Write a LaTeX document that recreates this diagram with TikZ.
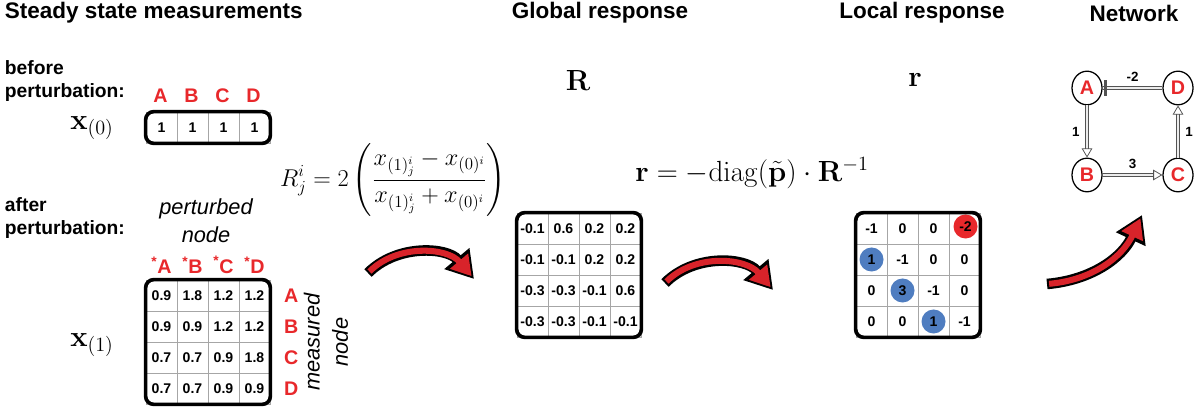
\documentclass[tikz,border=0pt]{standalone}
\usepackage{amsmath}
\usepackage[no-math]{fontspec}
\setmainfont{Liberation Sans}
\usepackage{xcolor}
\usetikzlibrary{arrows.meta,calc,positioning,shapes.geometric}

\definecolor{labred}{HTML}{E8282B}
\definecolor{dotblue}{HTML}{4F7DC0}
\definecolor{arrowred}{HTML}{D8232A}

\begin{document}
\begin{tikzpicture}[x=0.025cm,y=0.025cm,
  headline/.style={font=\fontsize{16}{19}\selectfont\bfseries},
  side/.style={font=\fontsize{13.7}{16.5}\selectfont\bfseries, align=left, anchor=west},
  letter/.style={font=\fontsize{14}{16}\selectfont\bfseries, text=labred},
  cell/.style={draw=gray!70, line width=0.5pt, minimum size=0.775cm, inner sep=0pt,
    font=\fontsize{10}{12}\selectfont\bfseries},
  frame/.style={line width=2.6pt, rounded corners=0.2cm},
  note/.style={font=\fontsize{15.5}{20}\selectfont\itshape, align=center},
  dot/.style={circle, fill=#1, minimum size=0.6cm, inner sep=0pt,
    font=\fontsize{10}{12}\selectfont\bfseries},
  netnode/.style={ellipse, draw, line width=0.9pt, minimum width=0.75cm, minimum height=0.84cm,
    inner sep=0pt, font=\fontsize{14}{16}\selectfont\bfseries, text=labred},
  act/.style={draw=gray!65!black, line width=0.55pt, double=gray!15, double distance=1.4pt,
    -{Triangle[open, length=6.5pt, width=7.5pt]}},
  inh/.style={draw=gray!65!black, line width=0.55pt, double=gray!15, double distance=1.4pt},
  inhbar/.style={draw=gray!65!black, line width=0.8pt, shorten <=1.4cm,
    -{Bar[width=11pt, line width=0.8pt]Bar[width=11pt, line width=0.8pt, sep=1.2pt]}},
  elabel/.style={font=\fontsize{9.5}{11}\selectfont\bfseries, inner sep=1pt},
  bigarrow/.style={line width=7.5pt, -{Triangle[length=19pt, width=22pt]}},
  bigarrowin/.style={arrowred, line width=4.3pt, shorten <=1.5pt, shorten >=2.6pt,
    -{Triangle[length=14pt, width=16pt]}}]
  \useasboundingbox (0,0) rectangle (1200,407);

  % column headings
  \node[headline, anchor=west] (hsteady) at (0,394) {Steady state measurements};
  \node[headline] (hglobal) at (600,394) {Global response};
  \node[headline] (hlocal) at (922,394) {Local response};
  \node[headline] (hnet) at (1134,394) {Network};

  % before perturbation
  \node[side] (before) at (0,326) {before\\perturbation:};
  \node[font=\fontsize{21}{24}\selectfont] (x0lab) at (92,279) {$\mathbf{x}_{(0)}$};
  \foreach \v [count=\j] in {1,1,1,1}
    \node[cell] (X0-\j) at ({130.5+31*\j},279.5) {\v};
  \draw[frame] (X0-1.north west) rectangle (X0-4.south east);
  \foreach \l [count=\j] in {A,B,C,D}
    \node[letter] (top0-\j) at ({129.5+31*\j},311) {\l};

  % after perturbation
  \node[side] (after) at (0,189) {after\\perturbation:};
  \node[note] (pert) at (206,186) {perturbed\\node};
  \node[font=\fontsize{21}{24}\selectfont] (x1lab) at (92,62) {$\mathbf{x}_{(1)}$};
  \foreach \row [count=\i] in {{0.9,1.8,1.2,1.2},{0.9,0.9,1.2,1.2},{0.7,0.7,0.9,1.8},{0.7,0.7,0.9,0.9}}
    \foreach \v [count=\j] in \row
      \node[cell] (X1-\i-\j) at ({130.5+31*\j},{142.5-31*\i}) {\v};
  \draw[frame] (X1-1-1.north west) rectangle (X1-4-4.south east);
  \foreach \l [count=\j] in {A,B,C,D}
    \node[letter] (top1-\j) at ({130.5+31*\j},142) {\textsuperscript{*}\l};
  \foreach \l [count=\i] in {A,B,C,D}
    \node[letter, right=0.22cm of X1-\i-4] (side1-\i) {\l};
  \node[note, rotate=90] (meas) at (326,65) {measured\\node};

  % global response
  \node[font=\fontsize{17}{20}\selectfont] (form1) at (393,227)
    {$\displaystyle R^i_j = 2\left(\frac{x_{(1)^i_j} - x_{(0)^i}}{x_{(1)^i_j} + x_{(0)^i}}\right)$};
  \node[font=\fontsize{20}{24}\selectfont] (Rlab) at (578,327) {$\mathbf{R}$};
  \foreach \row [count=\i] in {{-0.1,0.6,0.2,0.2},{-0.1,-0.1,0.2,0.2},{-0.3,-0.3,-0.1,0.6},{-0.3,-0.3,-0.1,-0.1}}
    \foreach \v [count=\j] in \row
      \node[cell] (Rg-\i-\j) at ({501.5+31*\j},{209.5-31*\i}) {\v};
  \draw[frame] (Rg-1-1.north west) rectangle (Rg-4-4.south east);

  % local response
  \node[font=\fontsize{19.5}{22}\selectfont] (form2) at (752,234)
    {$\mathbf{r} = -\mathrm{diag}(\tilde{\mathbf{p}}) \cdot \mathbf{R}^{-1}$};
  \node[font=\fontsize{20}{24}\selectfont] (rlab) at (915,327) {$\mathbf{r}$};
  \foreach \row [count=\i] in {{-1,0,0,{}},{{},-1,0,0},{0,{},-1,0},{0,0,{},-1}}
    \foreach \v [count=\j] in \row
      \node[cell] (Rl-\i-\j) at ({840.5+31*\j},{209.5-31*\i}) {\v};
  \node[dot=labred] (dot14) at ($(Rl-1-4)+(1,2)$) {-2};
  \node[dot=dotblue] (dot21) at (Rl-2-1) {1};
  \node[dot=dotblue] (dot32) at (Rl-3-2) {3};
  \node[dot=dotblue] (dot43) at (Rl-4-3) {1};
  \draw[frame] (Rl-1-1.north west) rectangle (Rl-4-4.south east);

  % network
  \node[netnode] (netA) at (1087,319) {A};
  \node[netnode] (netD) at (1178,319) {D};
  \node[netnode] (netB) at (1087,232) {B};
  \node[netnode] (netC) at (1178,232) {C};
  \draw[act] (netA) -- node[elabel, left=4pt] {1} (netB);
  \draw[act] (netB) -- node[elabel, above=3pt] {3} (netC);
  \draw[act] (netC) -- node[elabel, right=4pt] {1} (netD);
  \draw[inh] (netD) -- node[elabel, above=3pt] {-2} (netA);
  \draw[inhbar] (netD) -- (netA);

  % red arrows between steps
  \coordinate (a1s) at (368,134);
  \coordinate (a1e) at (474,128);
  \coordinate (a2s) at (665,124);
  \coordinate (a2e) at (773,117);
  \coordinate (a3s) at (1047,123);
  \coordinate (a3e) at (1142,192);
  \draw[bigarrow] (a1s) to[out=45,in=130] (a1e);
  \draw[bigarrowin] (a1s) to[out=45,in=130] (a1e);
  \draw[bigarrow] (a2s) to[out=45,in=130] (a2e);
  \draw[bigarrowin] (a2s) to[out=45,in=130] (a2e);
  \draw[bigarrow] (a3s) to[out=5,in=245] (a3e);
  \draw[bigarrowin] (a3s) to[out=5,in=245] (a3e);
\end{tikzpicture}
\end{document}
